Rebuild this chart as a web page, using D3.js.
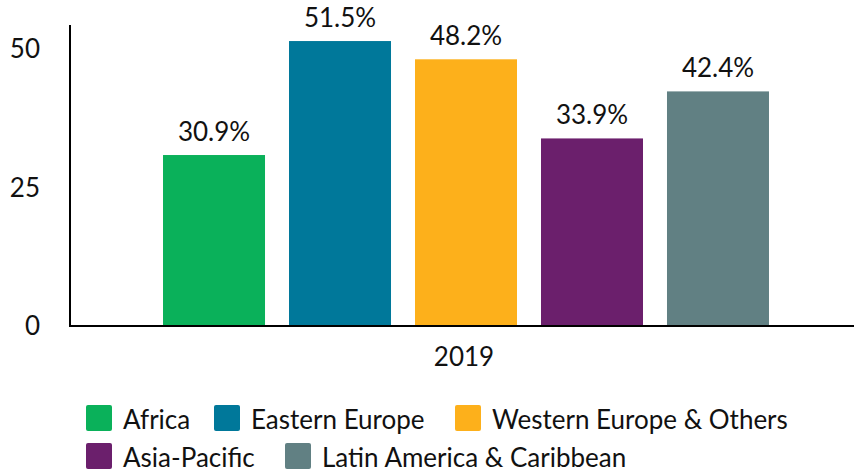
<!DOCTYPE html>
<html>
<head>
<meta charset="utf-8">
<script src="https://cdn.jsdelivr.net/npm/d3@7"></script>
<style>
  html, body { margin: 0; padding: 0; background: #fff; }
  svg { display: block; font-family: Lato, "Noto Sans", sans-serif; }
</style>
</head>
<body>
<svg id="chart" width="854" height="474"></svg>
<script>
const years = ["2019"];
const regions = ["Africa", "Eastern Europe", "Western Europe & Others", "Asia-Pacific", "Latin America & Caribbean"];
const values = [30.9, 51.5, 48.2, 33.9, 42.4];
const colors = ["#0ab15a", "#00789a", "#fdb01b", "#6b1f6c", "#618083"];
const yTicks = [0, 25, 50];

(function () {
const svg = d3.select("#chart");
const W = 854;
const mLeft = 70, mRight = 862, mBottom = 326, mTop = 25;
const fs = 26;

const x0 = d3.scaleBand().domain(years).range([mLeft, mRight]).paddingInner(0).paddingOuter(0.1535);
const x1 = d3.scaleBand().domain(regions).range([0, x0.bandwidth()]).paddingInner(24 / 126).paddingOuter(0);
const y = d3.scaleLinear().domain([0, 54.4]).range([mBottom, mTop]);
const color = d3.scaleOrdinal().domain(regions).range(colors);

const data = regions.map((r, i) => ({ region: r, value: values[i] }));

// bars
const g = svg.append("g").selectAll("g").data(years).join("g")
  .attr("transform", d => `translate(${x0(d)},0)`);

g.selectAll("rect").data(data).join("rect")
  .attr("x", d => x1(d.region))
  .attr("y", d => y(d.value))
  .attr("width", x1.bandwidth())
  .attr("height", d => y(0) - y(d.value))
  .attr("fill", d => color(d.region));

g.selectAll("text.val").data(data).join("text")
  .attr("class", "val")
  .attr("x", d => x1(d.region) + x1.bandwidth() / 2)
  .attr("y", d => y(d.value) - 14)
  .attr("text-anchor", "middle")
  .attr("font-size", fs)
  .attr("fill", "#111")
  .text(d => d.value.toFixed(1) + "%");

// y axis
const yAxis = d3.axisLeft(y).tickValues(yTicks).tickSize(0).tickPadding(30);
const yg = svg.append("g").attr("transform", `translate(${mLeft},0)`).call(yAxis);
yg.select(".domain").remove();
yg.selectAll("text").attr("font-size", fs).attr("font-family", "Lato, sans-serif").attr("fill", "#111");

svg.append("line").attr("x1", mLeft).attr("x2", mLeft).attr("y1", mTop).attr("y2", y(0) + 1)
  .attr("stroke", "#000").attr("stroke-width", 2);
svg.append("line").attr("x1", mLeft - 1).attr("x2", W).attr("y1", y(0)).attr("y2", y(0))
  .attr("stroke", "#000").attr("stroke-width", 2);

// x axis label
const xAxis = d3.axisBottom(x0).tickSize(0).tickPadding(22);
const xg = svg.append("g").attr("transform", `translate(-2,${y(0)})`).call(xAxis);
xg.select(".domain").remove();
xg.selectAll("text").attr("font-size", fs).attr("font-family", "Lato, sans-serif").attr("fill", "#111");

// legend
const legendPos = [[86, 405], [214, 405], [455, 405], [86, 443], [285, 443]];
const lg = svg.append("g").selectAll("g").data(regions).join("g")
  .attr("transform", (d, i) => `translate(${legendPos[i][0]},${legendPos[i][1]})`);
lg.append("rect").attr("width", 26).attr("height", 26).attr("rx", 2)
  .attr("fill", d => color(d));
lg.append("text").attr("x", 37).attr("y", 24).attr("font-size", fs).attr("fill", "#111").text(d => d);
})();
</script>
</body>
</html>
